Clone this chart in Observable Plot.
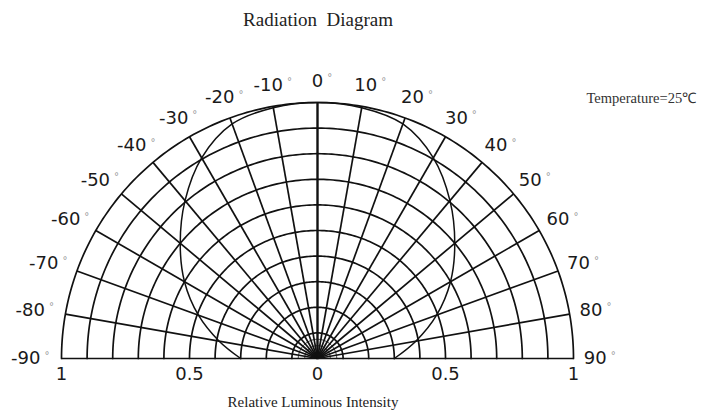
<!DOCTYPE html>
<html>
<head>
<meta charset="utf-8">
<script src="https://cdn.jsdelivr.net/npm/d3@7"></script>
<script src="https://cdn.jsdelivr.net/npm/@observablehq/plot@0.6"></script>
<style>
  html, body { margin: 0; padding: 0; background: #fff; }
  #wrap { position: relative; width: 701px; height: 414px; overflow: hidden; }
  #title { position: absolute; left: 318px; top: 10px; transform: translateX(-50%);
           font: 19px/19px "Liberation Serif", serif; color: #222; white-space: pre; }
  #chart { position: absolute; left: 0; top: 40px; }
  #caption { position: absolute; left: 313px; top: 395px; transform: translateX(-50%);
             font: 15px/15px "Liberation Serif", serif; color: #222; white-space: pre; }
</style>
</head>
<body>
<div id="wrap">
  <div id="title">Radiation  Diagram</div>
  <div id="chart"></div>
  <div id="caption">Relative Luminous Intensity</div>
</div>
<script>
// ---- data ----
const angles = [-90, -80, -70, -60, -50, -40, -30, -20, -10, 0, 10, 20, 30, 40, 50, 60, 70, 80, 90];
const intensity = [0.30, 0.39, 0.495, 0.60, 0.70, 0.805, 0.905, 0.975, 0.995, 1.0, 0.995, 0.975, 0.905, 0.805, 0.70, 0.60, 0.495, 0.39, 0.30];
const angleTicks = [-90, -80, -70, -60, -50, -40, -30, -20, -10, 0, 10, 20, 30, 40, 50, 60, 70, 80, 90];
const angleLabels = ["-90", "-80", "-70", "-60", "-50", "-40", "-30", "-20", "-10", "0", "10", "20", "30", "40", "50", "60", "70", "80", "90"];
const ringRadii = [0.1, 0.2, 0.3, 0.4, 0.5, 0.6, 0.7, 0.8, 0.9, 1.0];
const innerRings = [0.025, 0.05, 0.075];
const intensityTicks = [-1, -0.5, 0, 0.5, 1];
const intensityLabels = ["1", "0.5", "0", "0.5", "1"];
const temperatureNote = "Temperature=25℃";

// ---- geometry helpers ----
const rad = a => a * Math.PI / 180;
const polar = (r, a) => ({x: r * Math.sin(rad(a)), y: r * Math.cos(rad(a))});

const arcPoints = [];
for (const r of ringRadii.concat(innerRings)) {
  for (let a = -90; a <= 90; a += 1) arcPoints.push({...polar(r, a), ring: r, inner: r < 0.1});
}
const spokes = angleTicks.map(a => ({a, ...polar(1, a)}));
const curve = angles.map((a, i) => ({a, ...polar(intensity[i], a)}));

const unit = 256; // px per unit of relative intensity (plot frame 512 px wide)
const labelSize = 18;
const textWidth = s => [...s].reduce((w, c) => w + (c === "-" ? 0.361 : 0.636) * labelSize, 0);
const labelPos = angleTicks.map((a, i) => {
  const p = polar(1.085, a);
  const shift = a < 0 ? 14 * Math.pow(Math.abs(Math.sin(rad(a))), 1.5) / unit : 0;
  return {x: p.x - shift, y: p.y, label: angleLabels[i]};
});
const degreePos = labelPos.map(d => ({x: d.x + (textWidth(d.label) / 2 + 6.5) / unit, y: d.y}));
const bottomLabels = intensityTicks.map((v, i) => ({x: v, label: intensityLabels[i]}));

const plot = Plot.plot({
  width: 701,
  height: 350,
  marginLeft: 61,
  marginRight: 128,
  marginTop: 62,
  marginBottom: 32,
  x: {domain: [-1, 1], axis: null},
  y: {domain: [0, 1], axis: null},
  style: {background: "transparent", overflow: "visible"},
  marks: [
    Plot.line(arcPoints.filter(d => !d.inner), {x: "x", y: "y", z: "ring", stroke: "#111", strokeWidth: 1.7}),
    Plot.line(arcPoints.filter(d => d.inner), {x: "x", y: "y", z: "ring", stroke: "#111", strokeWidth: 1}),
    Plot.link(spokes, {x1: 0, y1: 0, x2: "x", y2: "y", stroke: "#111",
      strokeWidth: d => d.a === 0 ? 2.4 : 1.7}),
    Plot.line(curve, {x: "x", y: "y", curve: "catmull-rom", stroke: "#111", strokeWidth: 1.5}),
    Plot.text(labelPos, {x: "x", y: "y", text: "label", fontSize: labelSize, fontFamily: "DejaVu Sans",
      fill: "#1a1a1a"}),
    Plot.text(degreePos, {x: "x", y: "y", text: () => "°", dy: -3, fontSize: 10,
      fontFamily: "DejaVu Sans", fill: "#999"}),
    Plot.text(bottomLabels, {x: "x", y: 0, text: "label", dy: 16, fontSize: labelSize,
      fontFamily: "DejaVu Sans", fill: "#1a1a1a"}),
    Plot.text([temperatureNote], {frameAnchor: "top-right", textAnchor: "start", dx: 13, dy: -10,
      fontSize: 14.5, fontFamily: "Liberation Serif", fill: "#333"})
  ]
});

document.getElementById("chart").appendChild(plot);
</script>
</body>
</html>
